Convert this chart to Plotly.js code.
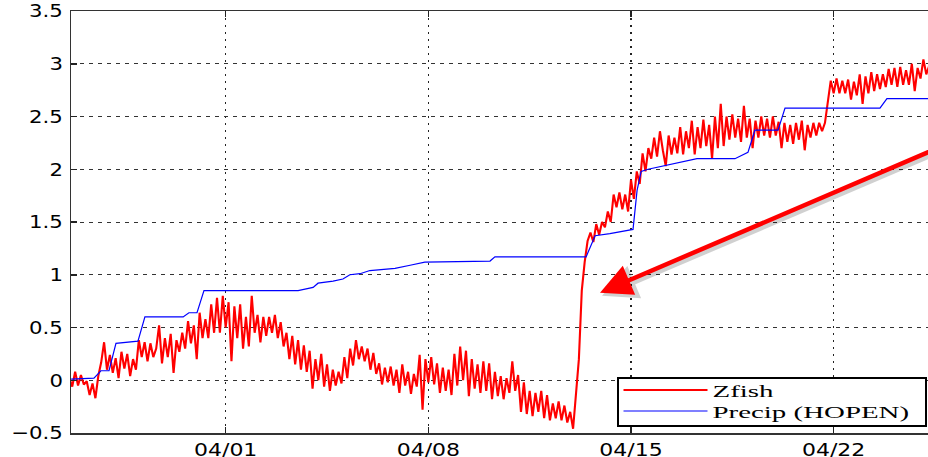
<!DOCTYPE html>
<html>
<head>
<meta charset="utf-8">
<script src="https://cdn.plot.ly/plotly-3.0.1.min.js"></script>
<style>html,body{margin:0;padding:0;background:#fff;}#chart{width:928px;height:457px;}</style>
</head>
<body>
<div id="chart"></div>
<script>
// ---- data (time in days since 04/01 00:00) ----
const seriesNames = ['Zfish', 'Precip (HOPEN)'];
const tickDays = [0, 7, 14, 21];
const tickLabels = ['04/01', '04/08', '04/15', '04/22'];

const zfishStartDay = -5.4;
const zfishStepDays = 0.1;
const zfishValues = [
  0.02, -0.06, 0.08, -0.05, 0.05, -0.04, -0.01, -0.14, -0.03, -0.17,
  0.04, 0.17, 0.36, 0.1, 0.24, 0.07, 0.21, 0.02, 0.27, 0.11,
  0.25, 0.04, 0.2, 0.1, 0.38, 0.22, 0.36, 0.18, 0.35, 0.22,
  0.3, 0.52, 0.16, 0.4, 0.22, 0.44, 0.07, 0.38, 0.27, 0.45,
  0.3, 0.56, 0.35, 0.52, 0.2, 0.64, 0.4, 0.58, 0.4, 0.72,
  0.45, 0.78, 0.45, 0.8, 0.5, 0.74, 0.18, 0.7, 0.4, 0.72,
  0.3, 0.6, 0.32, 0.8, 0.45, 0.62, 0.36, 0.6, 0.42, 0.6,
  0.45, 0.62, 0.4, 0.55, 0.32, 0.45, 0.2, 0.42, 0.15, 0.38,
  0.1, 0.33, 0.08, 0.28, -0.08, 0.2, 0.0, 0.25, -0.06, 0.15,
  -0.1, 0.1, -0.05, 0.08, -0.03, 0.22, 0.02, 0.3, 0.14, 0.38,
  0.2, 0.32, 0.18, 0.3, 0.1, 0.26, 0.06, 0.16, -0.04, 0.12,
  -0.02, 0.13, -0.05, 0.1, -0.12, 0.15, -0.05, 0.08, -0.13, 0.06,
  -0.06, 0.24, -0.28, 0.2, -0.02, 0.22, -0.04, 0.16, -0.12, 0.12,
  -0.1, 0.1, -0.14, 0.25, -0.05, 0.32, 0.0, 0.28, -0.15, 0.2,
  -0.08, 0.15, -0.12, 0.18, -0.1, 0.16, -0.18, 0.08, -0.15, 0.04,
  -0.18, 0.02, -0.12, 0.18, -0.1, 0.05, -0.3, -0.02, -0.32, -0.1,
  -0.34, -0.12, -0.3, -0.1, -0.36, -0.14, -0.38, -0.22, -0.36, -0.2,
  -0.38, -0.24, -0.4, -0.3, -0.46, -0.1, 0.2, 0.85, 1.12, 1.32,
  1.4, 1.31, 1.48, 1.38, 1.5, 1.45, 1.6, 1.5, 1.76, 1.64,
  1.78, 1.62, 1.76, 1.6, 1.9, 1.72, 1.98, 1.86, 2.15, 1.98,
  2.2, 2.1, 2.3, 2.12, 2.36, 2.18, 2.03, 2.32, 2.14, 2.3,
  2.15, 2.4, 2.14, 2.36, 2.2, 2.46, 2.14, 2.4, 2.2, 2.47,
  2.22, 2.42, 2.1, 2.5, 2.2, 2.62, 2.22, 2.5, 2.28, 2.52,
  2.3, 2.48, 2.26, 2.6, 2.3, 2.48, 2.2, 2.46, 2.3, 2.5,
  2.32, 2.48, 2.3, 2.5, 2.32, 2.45, 2.2, 2.44, 2.26, 2.42,
  2.24, 2.44, 2.28, 2.46, 2.18, 2.42, 2.3, 2.44, 2.32, 2.44,
  2.36, 2.44, 2.62, 2.84, 2.72, 2.86, 2.72, 2.84, 2.72, 2.85,
  2.66, 2.83, 2.7, 2.9, 2.62, 2.88, 2.72, 2.92, 2.74, 2.9,
  2.76, 2.9, 2.78, 2.95, 2.8, 2.96, 2.78, 2.97, 2.8, 2.94,
  2.8, 3.0, 2.74, 2.96, 2.86, 3.04, 2.9, 2.98
];

const precipDays = [-5.34, -4.55, -4.31, -4.03, -3.79, -3.03, -2.79, -1.47, -1.27, -0.99,
  -0.75, 2.50, 3.02, 3.19, 3.71, 4.05, 4.29, 4.64, 4.98, 5.85,
  6.37, 6.88, 9.13, 9.30, 12.45, 12.76, 13.27, 14.07, 14.21, 14.35,
  14.59, 16.28, 17.59, 18.04, 18.28, 19.08, 19.32, 22.60, 22.84, 24.5];
const precipValues = [0.01, 0.02, 0.09, 0.09, 0.35, 0.37, 0.60, 0.60, 0.64, 0.64,
  0.85, 0.85, 0.88, 0.92, 0.94, 0.96, 1.00, 1.01, 1.04, 1.06,
  1.09, 1.12, 1.13, 1.17, 1.17, 1.37, 1.39, 1.43, 1.80, 1.98,
  2.00, 2.10, 2.10, 2.16, 2.37, 2.37, 2.58, 2.58, 2.67, 2.67];

// ---- build ----
const DAY = 86400000;
const ORIGIN = Date.UTC(2013, 3, 1);
const toMs = d => ORIGIN + d * DAY;

const zfishX = zfishValues.map((_, i) => toMs(zfishStartDay + i * zfishStepDays));
const precipX = precipDays.map(toMs);

const traces = [
  {x: zfishX, y: zfishValues, name: seriesNames[0], type: 'scatter', mode: 'lines',
   line: {color: '#ff0000', width: 2.1}},
  {x: precipX, y: precipValues, name: seriesNames[1], type: 'scatter', mode: 'lines',
   line: {color: '#0000ff', width: 1.2}}
];

const tickFont = {family: 'DejaVu Sans, Verdana, sans-serif', size: 18, color: '#000'};

const layout = {
  width: 928, height: 457,
  margin: {l: 71, r: 0, t: 11, b: 24, pad: 0},
  paper_bgcolor: '#fff', plot_bgcolor: '#fff',
  showlegend: true,
  xaxis: {
    type: 'date',
    range: [toMs(-5.343), toMs(24.259)],
    tickvals: tickDays.map(toMs), ticktext: tickLabels,
    ticks: 'inside', ticklen: 6, tickwidth: 1.5, tickcolor: '#222',
    showline: true, linecolor: '#333', linewidth: 1.5, mirror: 'ticks',
    showgrid: true, gridcolor: '#222', gridwidth: 1.5, griddash: '2px,5px',
    zeroline: false, tickfont: tickFont, automargin: false
  },
  yaxis: {
    range: [-0.5, 3.5],
    tickvals: [-0.5, 0, 0.5, 1, 1.5, 2, 2.5, 3, 3.5],
    ticktext: ['\u22120.5', '0', '0.5', '1', '1.5', '2', '2.5', '3', '3.5'],
    ticks: 'inside', ticklen: 6, tickwidth: 1.5, tickcolor: '#222',
    showline: true, linecolor: '#333', linewidth: 1.5, mirror: false,
    showgrid: true, gridcolor: '#333', gridwidth: 1, griddash: '4px,5px',
    zeroline: false, tickfont: tickFont, automargin: false, ticklabelstandoff: 3
  },
  legend: {
    x: 0.637, y: 0.017, xanchor: 'left', yanchor: 'bottom',
    bgcolor: '#fff', bordercolor: '#000', borderwidth: 1.5,
    font: {family: 'Liberation Serif, Times New Roman, serif', size: 17, color: '#000'},
    tracegroupgap: 0, itemwidth: 84
  },
  annotations: [
    {x: toMs(13.0), y: 0.80, ax: toMs(25.2), ay: 2.23, xref: 'x', yref: 'y', axref: 'x', ayref: 'y',
     showarrow: true, arrowhead: 2, arrowsize: 1.4, arrowwidth: 5, arrowcolor: 'rgba(0,0,0,0.18)', text: '', standoff: 0},
    {x: toMs(12.93), y: 0.83, ax: toMs(25.1), ay: 2.26, xref: 'x', yref: 'y', axref: 'x', ayref: 'y',
     showarrow: true, arrowhead: 2, arrowsize: 1.4, arrowwidth: 4.5, arrowcolor: '#ff0000', text: '', standoff: 0}
  ]
};

function stretch(selector, factor) {
  document.querySelectorAll(selector).forEach(t => {
    const w = t.getComputedTextLength();
    if (w > 0) {
      t.setAttribute('textLength', (w * factor).toFixed(1));
      t.setAttribute('lengthAdjust', 'spacingAndGlyphs');
    }
  });
}

// legend box geometry (pixels) to mimic the original wide, compact legend box
const legendBox = {left: 617, top: 377, width: 308, height: 48, rowTop: 13, rowStep: 21};

Plotly.newPlot('chart', traces, layout, {staticPlot: true, displayModeBar: false}).then(() => {
  stretch('#chart .xtick text', 1.22);
  stretch('#chart .ytick text', 1.18);
  stretch('#chart .legendtext', 1.7);
  const leg = document.querySelector('#chart .legend');
  if (leg) {
    leg.setAttribute('transform', `translate(${legendBox.left},${legendBox.top})`);
    const bg = leg.querySelector('rect.bg');
    if (bg) { bg.setAttribute('width', legendBox.width); bg.setAttribute('height', legendBox.height); }
    const sb = leg.querySelector('.scrollbox');
    if (sb) sb.removeAttribute('clip-path');
    leg.querySelectorAll('.traces').forEach((g, i) =>
      g.setAttribute('transform', `translate(1.5,${legendBox.rowTop + legendBox.rowStep * i})`));
  }
});
</script>
</body>
</html>
